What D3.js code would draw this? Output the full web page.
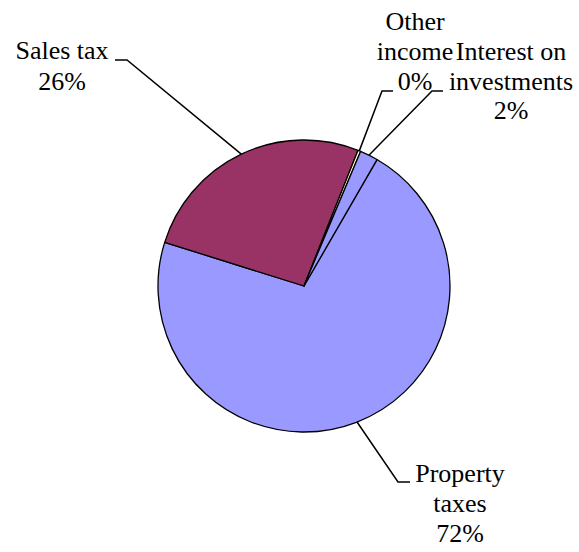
<!DOCTYPE html>
<html>
<head>
<meta charset="utf-8">
<script src="https://cdn.jsdelivr.net/npm/d3@7"></script>
<style>
  body { margin: 0; background: #fff; }
</style>
</head>
<body>
<script>
// slices in drawing order (clockwise from the first slice angle)
var categories = ["Property taxes", "Sales tax", "Other income", "Interest on investments"];
var values = [71.5, 26.2, 0.3, 2.0];
var colors = ["#9999FF", "#993366", "#FFFFCC", "#9999FF"];
var labelLines = [["Property", "taxes"], ["Sales tax"], ["Other", "income"], ["Interest on", "investments"]];

// where each label sits and where its leader line bends
var labelLayout = [
  { x: 460, y: 482, dy: 30, bend: [398, 482], end: [410, 482] },
  { x: 62, y: 59, dy: 31, bend: [127, 60], end: [115, 60] },
  { x: 415, y: 30, dy: 30, bend: [382, 91], end: [393, 91] },
  { x: 511, y: 60, dy: 29.5, bend: [432, 91], end: [443, 91] }
];

var width = 579, height = 552;
var cx = 304, cy = 286, r = 146;
var startDeg = 30;
var serif = "'Liberation Serif', 'Times New Roman', Tinos, serif";

var svg = d3.select("body").append("svg")
    .attr("width", width)
    .attr("height", height)
    .style("font-family", serif);

var data = categories.map(function(c, i) { return { name: c, value: values[i], i: i }; });

var pie = d3.pie()
    .sort(null)
    .value(function(d) { return d.value; })
    .startAngle(startDeg * Math.PI / 180)
    .endAngle(startDeg * Math.PI / 180 + 2 * Math.PI);

var arcs = pie(data);
var arc = d3.arc().innerRadius(0).outerRadius(r);

var g = svg.append("g").attr("transform", "translate(" + cx + "," + cy + ")");

g.selectAll("path.slice")
  .data(arcs)
  .enter()
  .append("path")
    .attr("class", "slice")
    .attr("d", arc)
    .attr("fill", function(d) { return colors[d.data.i]; })
    .attr("stroke", "#000")
    .attr("stroke-width", 1.3)
    .attr("stroke-linejoin", "round");

var total = d3.sum(values);

// leader lines
svg.selectAll("polyline.leader")
  .data(arcs)
  .enter()
  .append("polyline")
    .attr("class", "leader")
    .attr("fill", "none")
    .attr("stroke", "#000")
    .attr("stroke-width", 1.5)
    .attr("points", function(d) {
      var a = (d.startAngle + d.endAngle) / 2;
      var L = labelLayout[d.data.i];
      var p0 = [cx + r * Math.sin(a), cy - r * Math.cos(a)];
      return [p0, L.bend, L.end].map(function(p) { return p.join(","); }).join(" ");
    });

// labels, one text element per line
arcs.forEach(function(d) {
  var L = labelLayout[d.data.i];
  var lines = labelLines[d.data.i].concat([Math.round(d.data.value / total * 100) + "%"]);
  lines.forEach(function(s, k) {
    svg.append("text")
      .attr("x", L.x)
      .attr("y", L.y + k * L.dy)
      .attr("text-anchor", "middle")
      .style("font-family", serif)
      .style("font-size", "26px")
      .attr("fill", "#000")
      .text(s);
  });
});
</script>
</body>
</html>
